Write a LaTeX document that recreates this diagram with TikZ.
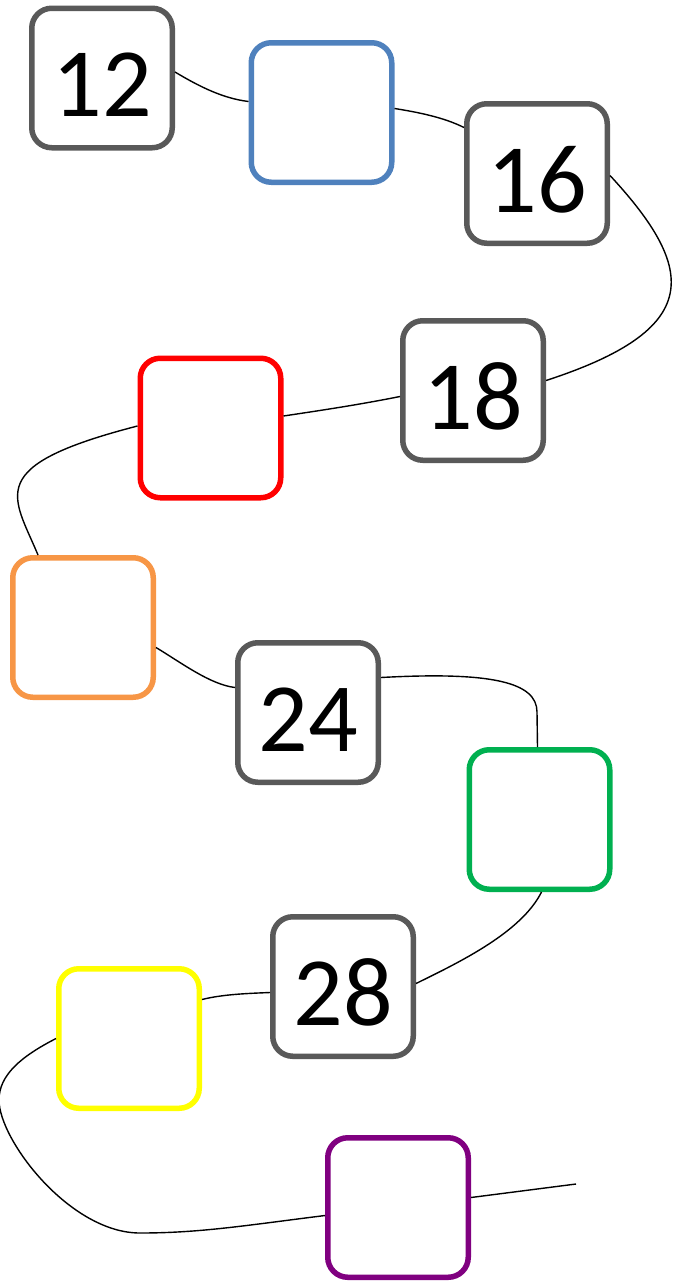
\documentclass[tikz,border=0pt]{standalone}
\usepackage{fontspec}
\setmainfont{Carlito}
\usetikzlibrary{calc}
\definecolor{boxgray}{HTML}{595959}
\definecolor{cblue}{HTML}{4F81BD}
\definecolor{cred}{HTML}{FF0000}
\definecolor{corange}{HTML}{F79646}
\definecolor{cgreen}{HTML}{00B050}
\definecolor{cyellow}{HTML}{FFFF00}
\definecolor{cpurple}{HTML}{800080}
\begin{document}
\begin{tikzpicture}[x=1pt,y=-1pt,
  box/.style={draw, line width=5.5pt, rounded corners=20pt, minimum width=140.5pt,
    minimum height=139.5pt, inner sep=0pt, fill=white,
    font=\fontsize{98}{100}\selectfont, text height=77pt, text depth=0pt},
  numbox/.style={box, draw=boxgray},
  link/.style={line width=1.4pt, draw=black}]
\useasboundingbox (0,0) rectangle (675,1285);
% boxes
\node[numbox] (n12) at (102,78) {12};
\node[box, draw=cblue] (blue) at (321.5,112.5) {};
\node[numbox] (n16) at (537,173.5) {16};
\node[numbox] (n18) at (473,390.5) {18};
\node[box, draw=cred] (red) at (210.5,428) {};
\node[box, draw=corange] (orange) at (83,627.5) {};
\node[numbox] (n24) at (308,712.5) {24};
\node[box, draw=cgreen] (green) at (539.5,819.5) {};
\node[numbox] (n28) at (343,986.5) {28};
\node[box, draw=cyellow] (yellow) at (129,1038.5) {};
\node[box, draw=cpurple] (purple) at (398,1207.5) {};
% helper coordinates
\coordinate (k24) at (537,712);
\coordinate (kleft) at (-1,1100);
\coordinate (kbot) at (140,1233);
\coordinate (tail) at (576,1184);
% connectors
\draw[link] ($(n12.east)+(0,-6)$) .. controls +(25,15) and +(-25,-3) .. ($(blue.west)+(0,-11)$);
\draw[link] ($(blue.east)+(0,-4)$) .. controls +(25,4) and +(-20,-10) .. ($(n16.west)+(0,-46)$);
\draw[link] ($(n16.east)+(0,2)$) .. controls +(88,95) and +(157,-51) .. ($(n18.east)+(0,-10)$);
\draw[link] ($(n18.west)+(0,6)$) .. controls +(-40,8) and +(40,-6) .. ($(red.east)+(0,-12)$);
\draw[link] ($(red.west)+(0,-2)$) .. controls +(-155,40) and +(-25,-60) .. ($(orange.north)+(-45,0)$);
\draw[link] ($(orange.east)+(0,20)$) .. controls +(25,15) and +(-25,-3) .. ($(n24.west)+(0,-25)$);
\draw[link] ($(n24.east)+(0,-35)$) .. controls +(110,-6) and +(0,-30) .. (k24) -- ($(green.north)+(-2,0)$);
\draw[link] ($(green.south)+(2,0)$) .. controls +(-20,40) and +(45,-22) .. ($(n28.east)+(0,-3)$);
\draw[link] ($(n28.west)+(0,6)$) .. controls +(-25,1) and +(20,-5) .. ($(yellow.east)+(0,-39)$);
\draw[link] (yellow.west) .. controls +(-35,18) and +(0,-25) .. (kleft)
  .. controls +(0,40) and +(-70,0) .. (kbot)
  .. controls +(60,0) and +(-80,10) .. ($(purple.west)+(0,8)$);
\draw[link] ($(purple.east)+(0,-10)$) -- (tail);
\end{tikzpicture}
\end{document}
